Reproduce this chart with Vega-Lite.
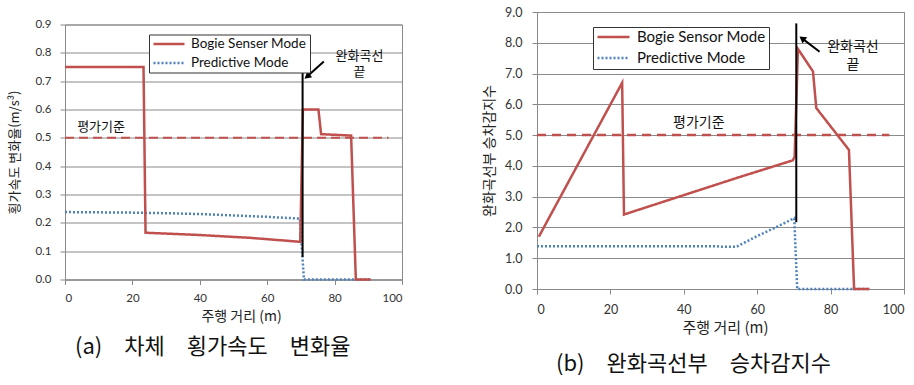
{
  "$schema": "https://vega.github.io/schema/vega-lite/v6.json",
  "padding": {"left": 8, "top": 5, "right": 0, "bottom": 2},
  "background": "white",
  "config": {
    "view": {"stroke": "#8a8a8a", "strokeWidth": 1},
    "axis": {
      "domainColor": "#8a8a8a", "tickColor": "#8a8a8a", "gridColor": "#8a8a8a", "gridOpacity": 1,
      "labelFont": "Lato", "labelColor": "#333333", "titleFont": "Noto Sans CJK KR",
      "titleFontWeight": "normal", "titleColor": "#222222", "tickSize": 5
    },
    "title": {"font": "Noto Sans CJK KR", "fontWeight": "normal", "color": "#111111"},
    "text": {"font": "Noto Sans CJK KR", "color": "#111111"}
  },
  "resolve": {"scale": {"color": "independent", "strokeDash": "independent"}, "legend": {"color": "independent", "strokeDash": "independent"}},
  "datasets": {
    "a_lines": [
      {"mode": "Predictive Mode", "x": 0, "y": 0.238},
      {"mode": "Predictive Mode", "x": 10, "y": 0.237},
      {"mode": "Predictive Mode", "x": 20, "y": 0.236},
      {"mode": "Predictive Mode", "x": 30, "y": 0.234},
      {"mode": "Predictive Mode", "x": 40, "y": 0.231},
      {"mode": "Predictive Mode", "x": 50, "y": 0.226},
      {"mode": "Predictive Mode", "x": 60, "y": 0.221},
      {"mode": "Predictive Mode", "x": 69.7, "y": 0.215},
      {"mode": "Predictive Mode", "x": 70.9, "y": 0},
      {"mode": "Predictive Mode", "x": 90.5, "y": 0},
      {"mode": "Bogie Senser Mode", "x": 0, "y": 0.75},
      {"mode": "Bogie Senser Mode", "x": 23.3, "y": 0.75},
      {"mode": "Bogie Senser Mode", "x": 23.9, "y": 0.165},
      {"mode": "Bogie Senser Mode", "x": 40, "y": 0.157},
      {"mode": "Bogie Senser Mode", "x": 55, "y": 0.147},
      {"mode": "Bogie Senser Mode", "x": 69.8, "y": 0.133},
      {"mode": "Bogie Senser Mode", "x": 70.6, "y": 0.6},
      {"mode": "Bogie Senser Mode", "x": 75.2, "y": 0.6},
      {"mode": "Bogie Senser Mode", "x": 76, "y": 0.513},
      {"mode": "Bogie Senser Mode", "x": 84.9, "y": 0.508},
      {"mode": "Bogie Senser Mode", "x": 86.3, "y": 0},
      {"mode": "Bogie Senser Mode", "x": 90.7, "y": 0}
    ],
    "b_lines": [
      {"mode": "Predictive Mode", "x": 0, "y": 1.39},
      {"mode": "Predictive Mode", "x": 49, "y": 1.39},
      {"mode": "Predictive Mode", "x": 50, "y": 1.37},
      {"mode": "Predictive Mode", "x": 54.3, "y": 1.37},
      {"mode": "Predictive Mode", "x": 60, "y": 1.72},
      {"mode": "Predictive Mode", "x": 65, "y": 2.0},
      {"mode": "Predictive Mode", "x": 70.1, "y": 2.3},
      {"mode": "Predictive Mode", "x": 70.9, "y": 0},
      {"mode": "Predictive Mode", "x": 90.6, "y": 0},
      {"mode": "Bogie Sensor Mode", "x": 0.5, "y": 1.7},
      {"mode": "Bogie Sensor Mode", "x": 23.2, "y": 6.7},
      {"mode": "Bogie Sensor Mode", "x": 23.7, "y": 2.42},
      {"mode": "Bogie Sensor Mode", "x": 40, "y": 3.05},
      {"mode": "Bogie Sensor Mode", "x": 55, "y": 3.63},
      {"mode": "Bogie Sensor Mode", "x": 69.7, "y": 4.18},
      {"mode": "Bogie Sensor Mode", "x": 70.2, "y": 4.3},
      {"mode": "Bogie Sensor Mode", "x": 71.1, "y": 7.8},
      {"mode": "Bogie Sensor Mode", "x": 75.2, "y": 7.07},
      {"mode": "Bogie Sensor Mode", "x": 76.1, "y": 5.88},
      {"mode": "Bogie Sensor Mode", "x": 85, "y": 4.52},
      {"mode": "Bogie Sensor Mode", "x": 86.4, "y": 0},
      {"mode": "Bogie Sensor Mode", "x": 90.6, "y": 0}
    ],
    "a_ref": [{"x": 0, "x2": 96, "y": 0.5}],
    "b_ref": [{"x": 0, "x2": 96, "y": 5}],
    "a_marker": [{"x": 70.5, "y": 0.08, "y2": 0.73}],
    "b_marker": [{"x": 70.65, "y": 2.17, "y2": 8.63}],
    "a_arrow": [{"x": 76.8, "y": 0.769, "x2": 72.1, "y2": 0.719}],
    "b_arrow": [{"x": 77, "y": 7.71, "x2": 72.5, "y2": 8.12}],
    "a_text": [
      {"x": 87.4, "y": 0.81, "label": "완화곡선\n끝"},
      {"x": 10.7, "y": 0.56, "label": "평가기준"}
    ],
    "b_text": [
      {"x": 86.1, "y": 8.1, "label": "완화곡선\n끝"},
      {"x": 44.1, "y": 5.62, "label": "평가기준"}
    ]
  },
  "spacing": 79,
  "center": true,
  "hconcat": [
    {
      "title": {"text": "(a)\u3000차체\u3000횡가속도\u3000변화율", "orient": "bottom", "fontSize": 22, "offset": 13, "anchor": "middle", "dx": 7,
        "subtitle": " ", "subtitleFontSize": 4, "subtitlePadding": 0},
      "vconcat": [
        {
          "width": 337,
          "height": 255,
          "encoding": {
            "x": {"field": "x", "type": "quantitative", "scale": {"domain": [0, 100], "nice": false},
              "axis": {"title": "주행 거리 (m)", "values": [0, 20, 40, 60, 80, 100], "grid": false,
                "labelFontSize": 11.5, "labelPadding": 8, "titleFontSize": 14, "titlePadding": 5, "titleX": 176}},
            "y": {"field": "y", "type": "quantitative", "scale": {"domain": [0, 0.9], "nice": false},
              "axis": {"title": "횡가속도 변화율(m/s³)", "values": [0, 0.1, 0.2, 0.3, 0.4, 0.5, 0.6, 0.7, 0.8, 0.9], "format": ".1f",
                "grid": true, "labelFontSize": 11.5, "labelPadding": 9, "titleFontSize": 13, "titlePadding": 13}}
          },
          "layer": [
            {"data": {"name": "a_ref"}, "mark": {"type": "rule", "color": "#C0504D", "strokeWidth": 2, "strokeDash": [9, 5]},
              "encoding": {"x2": {"field": "x2"}}},
            {"data": {"name": "a_lines"}, "mark": {"type": "line", "strokeWidth": 2.5},
              "encoding": {
                "color": {"field": "mode", "type": "nominal",
                  "scale": {"domain": ["Bogie Senser Mode", "Predictive Mode"], "range": ["#C0504D", "#4F81BD"]},
                  "legend": {"title": null, "orient": "none", "legendX": 84, "legendY": 10, "symbolType": "stroke", "symbolSize": 961,
                    "symbolStrokeWidth": 2.5, "labelFont": "Lato", "labelFontSize": 13.5, "labelColor": "#111111", "labelOffset": 5,
                    "strokeColor": "#333333", "fillColor": "white", "padding": 3, "rowPadding": 5, "clipHeight": 13}},
                "strokeDash": {"field": "mode", "type": "nominal",
                  "scale": {"domain": ["Bogie Senser Mode", "Predictive Mode"], "range": [[1, 0], [2, 2]]},
                  "legend": {"title": null, "orient": "none", "legendX": 84, "legendY": 10, "symbolType": "stroke", "symbolSize": 961,
                    "symbolStrokeWidth": 2.5, "labelFont": "Lato", "labelFontSize": 13.5, "labelColor": "#111111", "labelOffset": 5,
                    "strokeColor": "#333333", "fillColor": "white", "padding": 3, "rowPadding": 5, "clipHeight": 13}},
                "order": {"field": "x"}
              }},
            {"data": {"name": "a_marker"}, "mark": {"type": "rule", "color": "#000000", "strokeWidth": 2},
              "encoding": {"y2": {"field": "y2"}}},
            {"data": {"name": "a_arrow"}, "mark": {"type": "rule", "color": "#000000", "strokeWidth": 2},
              "encoding": {"x2": {"field": "x2"}, "y2": {"field": "y2"}}},
            {"data": {"name": "a_arrow"}, "mark": {"type": "point", "shape": "triangle", "filled": true, "size": 60, "angle": 230, "color": "#000000", "opacity": 1},
              "encoding": {"x": {"field": "x2", "type": "quantitative"}, "y": {"field": "y2", "type": "quantitative"}}},
            {"data": {"name": "a_text"}, "mark": {"type": "text", "fontSize": 13, "baseline": "top", "align": "center", "lineBreak": "\n", "lineHeight": 16},
              "encoding": {"text": {"field": "label"}}}
          ]
        }
      ]
    },
    {
      "title": {"text": "(b)\u3000완화곡선부\u3000승차감지수", "orient": "bottom", "fontSize": 22, "offset": 18, "anchor": "middle"},
      "vconcat": [
        {
          "width": 367,
          "height": 277,
          "encoding": {
            "x": {"field": "x", "type": "quantitative", "scale": {"domain": [0, 100], "nice": false},
              "axis": {"title": "주행 거리 (m)", "values": [0, 20, 40, 60, 80, 100], "grid": false,
                "labelFontSize": 12.5, "labelPadding": 9, "titleFontSize": 15, "titlePadding": 5, "titleX": 188}},
            "y": {"field": "y", "type": "quantitative", "scale": {"domain": [0, 9], "nice": false},
              "axis": {"title": "완화곡선부 승차감지수", "values": [0, 1, 2, 3, 4, 5, 6, 7, 8, 9], "format": ".1f",
                "grid": true, "labelFontSize": 12.5, "labelPadding": 10, "titleFontSize": 14, "titlePadding": 8}}
          },
          "layer": [
            {"data": {"name": "b_ref"}, "mark": {"type": "rule", "color": "#C0504D", "strokeWidth": 2.5, "strokeDash": [9, 6]},
              "encoding": {"x2": {"field": "x2"}}},
            {"data": {"name": "b_lines"}, "mark": {"type": "line", "strokeWidth": 2.5},
              "encoding": {
                "color": {"field": "mode", "type": "nominal",
                  "scale": {"domain": ["Bogie Sensor Mode", "Predictive Mode"], "range": ["#C0504D", "#4F81BD"]},
                  "legend": {"title": null, "orient": "none", "legendX": 56, "legendY": 15, "symbolType": "stroke", "symbolSize": 1024,
                    "symbolStrokeWidth": 2.5, "labelFont": "Lato", "labelFontSize": 15, "labelColor": "#111111", "labelOffset": 6,
                    "strokeColor": "#333333", "fillColor": "white", "padding": 3, "rowPadding": 6, "clipHeight": 14}},
                "strokeDash": {"field": "mode", "type": "nominal",
                  "scale": {"domain": ["Bogie Sensor Mode", "Predictive Mode"], "range": [[1, 0], [2, 2]]},
                  "legend": {"title": null, "orient": "none", "legendX": 56, "legendY": 15, "symbolType": "stroke", "symbolSize": 1024,
                    "symbolStrokeWidth": 2.5, "labelFont": "Lato", "labelFontSize": 15, "labelColor": "#111111", "labelOffset": 6,
                    "strokeColor": "#333333", "fillColor": "white", "padding": 3, "rowPadding": 6, "clipHeight": 14}},
                "order": {"field": "x"}
              }},
            {"data": {"name": "b_marker"}, "mark": {"type": "rule", "color": "#000000", "strokeWidth": 2},
              "encoding": {"y2": {"field": "y2"}}},
            {"data": {"name": "b_arrow"}, "mark": {"type": "rule", "color": "#000000", "strokeWidth": 2},
              "encoding": {"x2": {"field": "x2"}, "y2": {"field": "y2"}}},
            {"data": {"name": "b_arrow"}, "mark": {"type": "point", "shape": "triangle", "filled": true, "size": 60, "angle": 307, "color": "#000000", "opacity": 1},
              "encoding": {"x": {"field": "x2", "type": "quantitative"}, "y": {"field": "y2", "type": "quantitative"}}},
            {"data": {"name": "b_text"}, "mark": {"type": "text", "fontSize": 14, "baseline": "top", "align": "center", "lineBreak": "\n", "lineHeight": 18},
              "encoding": {"text": {"field": "label"}}}
          ]
        }
      ]
    }
  ]
}
